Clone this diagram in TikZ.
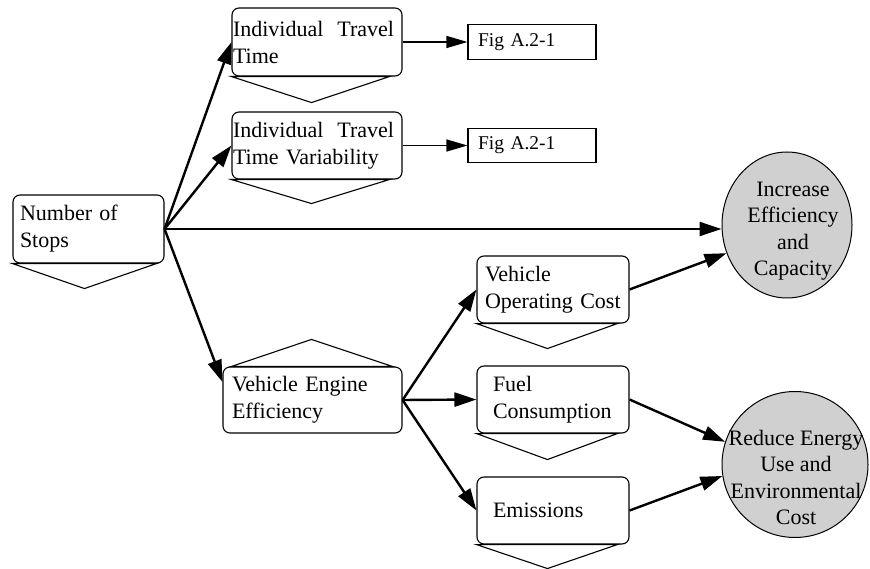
\documentclass[tikz,border=0pt]{standalone}
\usepackage{fontspec}
\setmainfont{Liberation Serif}
\usetikzlibrary{arrows.meta,shapes.geometric}
\definecolor{goalgray}{RGB}{208,208,208}
\begin{document}
\begin{tikzpicture}[x=1pt,y=-1pt,
  box/.style={draw,line width=1.1pt,rounded corners=7pt,inner sep=0pt,align=left,
    font=\fontsize{22}{27}\selectfont},
  figbox/.style={draw,line width=1.1pt,inner sep=0pt,align=left,minimum width=128pt,
    text width=108pt,font=\fontsize{19.5}{23}\selectfont},
  chev/.style={line width=1.1pt,line join=miter},
  goal/.style={draw,line width=1pt,fill=goalgray,ellipse,inner sep=0pt},
  goaltext/.style={align=center,font=\fontsize{22}{26.5}\selectfont,inner sep=0pt},
  bigarrow/.style={line width=2.4pt,-{Triangle[length=22pt,width=14pt]}},
  smallarrow/.style={line width=1.3pt,-{Triangle[length=21pt,width=12pt]}}
]
\useasboundingbox (0,0) rectangle (870,569);

% boxes
\node[box,minimum width=151pt,minimum height=68pt,text width=137pt] (stops) at (88.5,229) {Number of\\Stops};
\node[box,minimum width=170pt,minimum height=68pt,text width=168pt] (itt) at (317,42) {Individual\hspace{14pt}Travel\\Time};
\node[box,minimum width=170pt,minimum height=67pt,text width=168pt] (ittv) at (317,145.5) {Individual\hspace{14pt}Travel\\Time Variability};
\node[figbox,minimum height=35pt] (fig1) at (532,42) {Fig A.2-1};
\node[figbox,minimum height=34pt] (fig2) at (532,145.5) {Fig A.2-1};
\node[box,minimum width=179pt,minimum height=66pt,text width=161pt] (vee) at (312.5,400) {Vehicle Engine\\Efficiency};
\node[box,minimum width=152pt,minimum height=67pt,text width=136pt] (voc) at (553,289.5) {Vehicle\\Operating Cost};
\node[box,minimum width=152pt,minimum height=67pt,text width=120pt] (fuel) at (553,399.5) {Fuel\\Consumption};
\node[box,minimum width=152pt,minimum height=67pt,text width=120pt] (emis) at (553,510.5) {Emissions};

% goals
\node[goal,minimum width=130pt,minimum height=146pt] (inc) at (787,225) {};
\node[goaltext] (inctext) at ([xshift=6pt,yshift=-6pt]inc.center) {Increase\\Efficiency\\and\\Capacity};
\node[goal,minimum width=146pt,minimum height=146pt] (red) at (795,464.5) {};
\node[goaltext] (redtext) at ([xshift=1pt,yshift=-13pt]red.center) {Reduce Energy\\Use and\\Environmental\\Cost};

% chevrons
\draw[chev] (stops.south west) -- ++(72,25) -- ++(72,-25) -- cycle;
\draw[chev] (itt.south west) -- ++(80,26) -- ++(78,-26) -- cycle;
\draw[chev] (ittv.south west) -- ++(80,24) -- ++(78,-24) -- cycle;
\draw[chev] (voc.south west) -- ++(71,25) -- ++(70,-25) -- cycle;
\draw[chev] (fuel.south west) -- ++(71,26) -- ++(70,-26) -- cycle;
\draw[chev] (emis.south west) -- ++(71,24) -- ++(70,-24) -- cycle;
\draw[chev] ([xshift=9pt]vee.north west) -- ++(80,-27) -- ++(81,27) -- cycle;

% connectors
\draw[bigarrow] (stops.east) -- (itt.west);
\draw[bigarrow] (stops.east) -- (ittv.west);
\draw[bigarrow] (stops.east) -- (stops.east -| inc.west);
\draw[bigarrow] (stops.east) -- ([yshift=18pt]vee.west);
\draw[smallarrow] (itt.east) -- (itt.east -| fig1.west);
\draw[smallarrow] (ittv.east) -- (ittv.east -| fig2.west);
\draw[bigarrow] (vee.east) -- (voc.west);
\draw[bigarrow] (vee.east) -- (fuel.west);
\draw[bigarrow] (vee.east) -- (emis.west);
\draw[bigarrow] (voc.east) -- (inc.205);
\draw[bigarrow] (fuel.east) -- (red.162);
\draw[bigarrow] (emis.east) -- (red.189);
\end{tikzpicture}
\end{document}
